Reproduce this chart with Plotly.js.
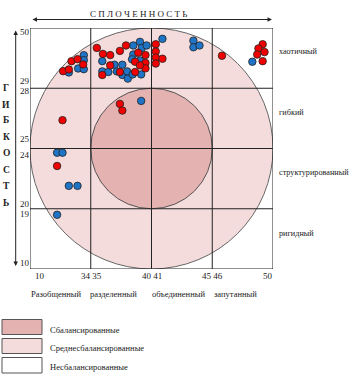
<!DOCTYPE html>
<html><head><meta charset="utf-8">
<script src="https://cdn.plot.ly/plotly-3.0.1.min.js"></script>
<style>html,body{margin:0;padding:0;background:#fff}#chart{width:353px;height:384px}</style>
</head><body><div id="chart"></div><script>
// Scale positions (grid units: 0..4 across, 0..4 up)
const redX = [0.545,0.639,0.683,0.782,0.875, 1.10,1.20,1.19,1.32,1.32,1.48,1.48,1.58,1.73,1.78,1.73,1.90,1.90,1.90,1.81, 2.07,2.07,2.07,2.07,2.18,3.16, 3.83,3.76,3.86,3.74,3.83, 0.535,1.48,1.52,0.446];
const redY = [3.284,3.312,3.449,3.483,3.395, 3.67,3.57,3.22,3.55,3.38,3.62,3.27,3.71,3.44,3.59,3.27,3.55,3.42,3.33,3.38, 3.73,3.61,3.51,3.41,3.49,3.54, 3.73,3.66,3.60,3.56,3.45, 2.47,2.74,2.63,1.71];
const blueX = [0.639,0.792,0.886,0.886,0.886, 1.19,1.19,1.29,1.39,1.43,1.52,1.52,1.60,1.61,1.70,1.70,1.68,1.81,1.84,1.81,1.92,1.69,1.83, 2.18,2.69,2.69,2.79, 3.66, 1.83,0.446,0.535,0.639,0.782,0.446];
const blueY = [3.262,3.328,3.549,3.466,3.317, 3.45,3.28,3.27,3.39,3.28,3.39,3.22,3.28,3.16,3.71,3.56,3.48,3.77,3.67,3.46,3.71,3.23,3.23, 3.82,3.79,3.68,3.71, 3.44, 2.79,1.93,1.93,1.38,1.38,0.90];

const xTickLabels = ['10','34 35','40 41','45 46','50'];
const yTickLabels = ['10','19','20','24','25','28','29','50'];
const cohesionLevels = ['Разобщенный','разделенный','объединенный','запутанный'];
const flexLevels = ['ригидный','структурированный','гибкий','хаотичный'];
const legendLabels = ['Сбалансированные','Среднесбалансированные','Несбалансированные'];
const titleX = 'С П Л О Ч Е Н Н О С Т Ь';
const titleY = ['Г','И','Б','К','О','С','Т','Ь'];

const FONT = 'Liberation Serif, Times New Roman, serif';
const L = 30, T = 28, W = 243, H = 241;
const px = v => (v - L) / W;          // pixel -> paper x
const py = v => (T + H - v) / H;       // pixel -> paper y

const traces = [
  {x: blueX, y: blueY, type:'scatter', mode:'markers', hoverinfo:'skip',
   marker:{size:7.5, color:'#1f74c6', line:{color:'#222', width:0.8}}},
  {x: redX, y: redY, type:'scatter', mode:'markers', hoverinfo:'skip',
   marker:{size:7.5, color:'#f00000', line:{color:'#222', width:0.8}}}
];

const shapes = [
  {type:'circle', xref:'x', yref:'y', x0:0, x1:4, y0:0, y1:4, fillcolor:'#f5dcdc', line:{color:'#666', width:1}, layer:'below'},
  {type:'circle', xref:'x', yref:'y', x0:1, x1:3, y0:1, y1:3, fillcolor:'#e5b2b2', line:{color:'#555', width:1}, layer:'below'}
];
[1,2,3].forEach(v => {
  shapes.push({type:'line', xref:'x', yref:'y', x0:v, x1:v, y0:0, y1:4, line:{color:'#222', width:1}, layer:'below'});
  shapes.push({type:'line', xref:'x', yref:'y', x0:0, x1:4, y0:v, y1:v, line:{color:'#222', width:1}, layer:'below'});
});
shapes.push({type:'rect', xref:'x', yref:'y', x0:0, x1:4, y0:0, y1:4, line:{color:'#222', width:1}, layer:'below'});
// legend boxes
const legFill = ['#e5b2b2','#f5dcdc','#ffffff'];
const legY = [[319.5,334.5],[338.5,353.5],[357.5,373]];
legFill.forEach((c,i) => shapes.push({type:'rect', xref:'paper', yref:'paper',
  x0:px(2), x1:px(42), y0:py(legY[i][1]), y1:py(legY[i][0]), fillcolor:c, line:{color:'#555', width:1}}));

const ann = [];
const txt = (text, x, y, xa, size, extra) => ann.push(Object.assign({text, xref:'paper', yref:'paper', x:px(x), y:py(y),
  xanchor:xa||'center', yanchor:'middle', showarrow:false, font:{family:FONT, size:size||9, color:'#222'}}, extra||{}));

// title and arrows
txt(titleX, 138, 14, 'center', 9);
ann.push({text:'', xref:'paper', yref:'paper', x:px(272), y:py(19.5), ax:-241, ay:0, showarrow:true,
  arrowside:'end+start', arrowhead:2, arrowsize:0.9, arrowwidth:1, arrowcolor:'#222'});
ann.push({text:'', xref:'paper', yref:'paper', x:px(15.7), y:py(266), ax:0, ay:-237, showarrow:true,
  arrowside:'end+start', arrowhead:2, arrowsize:0.9, arrowwidth:1, arrowcolor:'#222'});
const yLetters = [88.3,105,120,137.3,153.3,170,186,202.7];
titleY.forEach((c,i) => txt('<b>'+c+'</b>', 6, yLetters[i], 'center', 9.5));

// x tick labels
const xTickPx = [[33,'left'],[91,'center'],[151.5,'center'],[212,'center'],[275,'right']];
xTickLabels.forEach((t,i) => txt(t, xTickPx[i][0], 275.5, xTickPx[i][1], 9));
// y tick labels
const yTickPx = [262.7,214.3,204.3,155,139.3,91,80.7,32.3];
yTickLabels.forEach((t,i) => txt(t, 17.5, yTickPx[i], 'left', 9));
// cohesion levels
const cohPx = [56,113,178,235.5];
cohesionLevels.forEach((t,i) => txt(t, cohPx[i], 293.5, 'center', 8.5));
// flexibility levels
const flexPx = [233.3,172.3,112.7,51.7];
flexLevels.forEach((t,i) => txt(t, 277, flexPx[i], 'left', 8.2));
// legend labels
const legTextY = [330,348.3,367.3];
legendLabels.forEach((t,i) => txt(t, 48, legTextY[i], 'left', 8.5));

const layout = {
  width:353, height:384, margin:{l:L, r:353-L-W, t:T, b:384-T-H, pad:0},
  paper_bgcolor:'#fff', plot_bgcolor:'#fff', showlegend:false,
  xaxis:{range:[0,4], showgrid:false, zeroline:false, showticklabels:false, ticks:'', fixedrange:true},
  yaxis:{range:[0,4], showgrid:false, zeroline:false, showticklabels:false, ticks:'', fixedrange:true},
  shapes, annotations:ann
};
Plotly.newPlot('chart', traces, layout, {staticPlot:true, displayModeBar:false});
</script></body></html>
